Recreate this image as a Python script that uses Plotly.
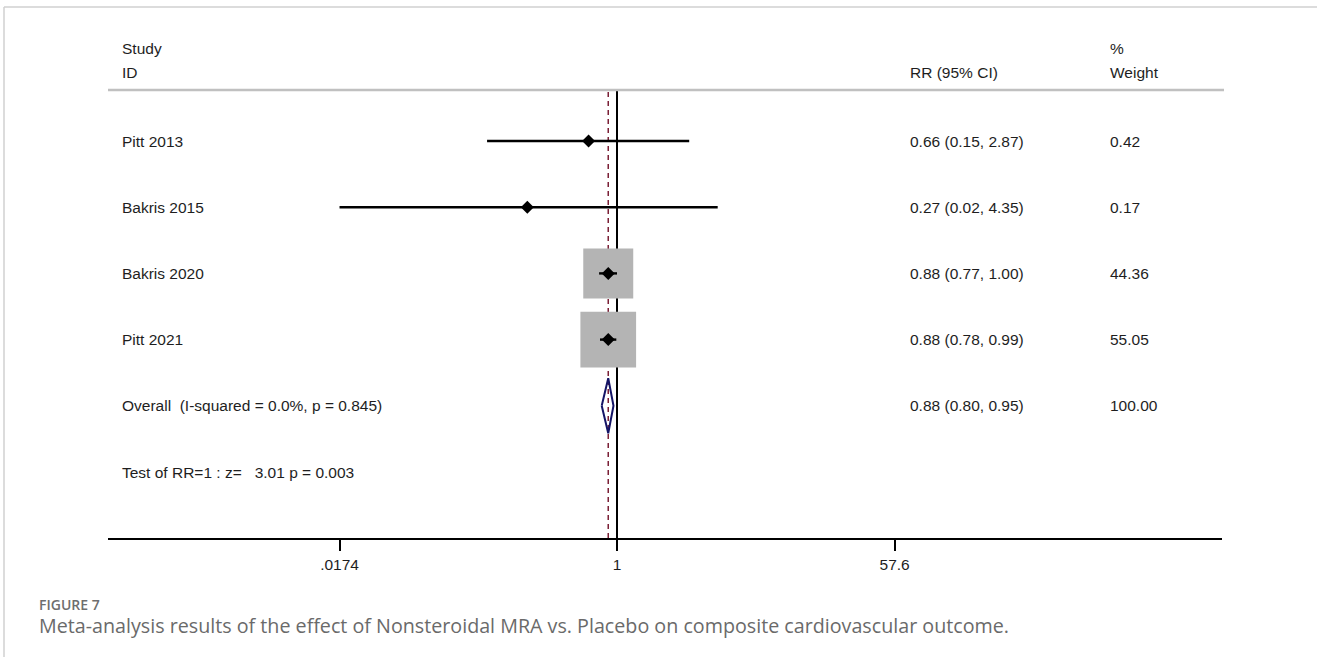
import math
import plotly.graph_objects as go

# ---------------- data ----------------
studies = ["Pitt 2013", "Bakris 2015", "Bakris 2020", "Pitt 2021"]
rr = [0.66, 0.27, 0.88, 0.88]
ci_low = [0.15, 0.0174, 0.77, 0.78]
ci_high = [2.87, 4.35, 1.00, 0.99]
weights = [0.42, 0.17, 44.36, 55.05]

overall_label = "Overall  (I-squared = 0.0%, p = 0.845)"
overall_rr = 0.88
overall_low = 0.80
overall_high = 0.95
overall_weight = 100.00
test_label = "Test of RR=1 : z=   3.01 p = 0.003"

tick_vals = [0.0174, 1, 57.6]
tick_text = [".0174", "1", "57.6"]

# ---------------- geometry ----------------
W, H = 1317, 657
L, R, T, B = 108, 1222, 90, 538          # plot area in pixels
X_ONE = 617                               # pixel of RR = 1
PPD = 157.7                               # pixels per decade
ROW0, ROWSTEP = 141, 66.2                 # first row pixel, row spacing

x_range = [-(X_ONE - L) / PPD, (R - X_ONE) / PPD]
y_range = [6 + (B - 472) / ROWSTEP, 1 - (ROW0 - T) / ROWSTEP]


def pxx(p):
    return (p - L) / (R - L)


def pxy(p):
    return (B - p) / (B - T)


txt_font = dict(family="Liberation Sans, Arial, sans-serif", size=15.5, color="#1e1e1e")
fig = go.Figure()

rows = list(range(1, len(studies) + 1))
overall_row = len(studies) + 1
test_row = len(studies) + 2

# weight boxes (area proportional to weight)
K = 7.507  # px per sqrt(weight)
for r, x, w in zip(rows, rr, weights):
    side = K * math.sqrt(w)
    hx = side / 2 / PPD
    hy = side / 2 / ROWSTEP
    lx = math.log10(x)
    xs = [10 ** (lx - hx), 10 ** (lx + hx), 10 ** (lx + hx), 10 ** (lx - hx), 10 ** (lx - hx)]
    ys = [r - hy, r - hy, r + hy, r + hy, r - hy]
    fig.add_trace(go.Scatter(x=xs, y=ys, mode="lines", fill="toself",
                             fillcolor="#b4b4b4", line=dict(width=0, color="#b4b4b4"),
                             hoverinfo="skip", showlegend=False))

# CI lines
for r, lo, hi in zip(rows, ci_low, ci_high):
    fig.add_trace(go.Scatter(x=[lo, hi], y=[r, r], mode="lines",
                             line=dict(color="black", width=2.4),
                             hoverinfo="skip", showlegend=False))

# point estimates
fig.add_trace(go.Scatter(x=rr, y=rows, mode="markers",
                         marker=dict(symbol="diamond", size=10, color="black"),
                         hoverinfo="skip", showlegend=False))

# overall diamond
dh = 27.5 / ROWSTEP
fig.add_trace(go.Scatter(
    x=[overall_low, overall_rr, overall_high, overall_rr, overall_low],
    y=[overall_row, overall_row - dh, overall_row, overall_row + dh, overall_row],
    mode="lines", line=dict(color="#141466", width=2),
    fill="toself", fillcolor="rgba(255,255,255,0)",
    hoverinfo="skip", showlegend=False))

shapes = [
    # null line
    dict(type="line", xref="x", yref="paper", x0=1, x1=1, y0=0, y1=1,
         line=dict(color="black", width=2), layer="below"),
    # overall dashed line
    dict(type="line", xref="x", yref="paper", x0=overall_rr, x1=overall_rr, y0=0, y1=1,
         line=dict(color="#7a1f35", width=1.5, dash="5px,4px"), layer="below"),
    # header rule
    dict(type="line", xref="paper", yref="paper", x0=0, x1=pxx(1224), y0=1, y1=1,
         line=dict(color="#c0c0c0", width=2.5)),
    # page frame
    dict(type="line", xref="paper", yref="paper", x0=pxx(4), x1=pxx(4), y0=pxy(7), y1=pxy(H + 2),
         line=dict(color="#d0d0d0", width=1.5)),
    dict(type="line", xref="paper", yref="paper", x0=pxx(4), x1=pxx(W + 2), y0=pxy(7), y1=pxy(7),
         line=dict(color="#d0d0d0", width=1.5)),
]

ann = []


def add_text(text, xp, yp, anchor="left", font=None):
    ann.append(dict(text=text, xref="paper", yref="paper", x=pxx(xp), y=pxy(yp),
                    xanchor=anchor, yanchor="middle", showarrow=False,
                    font=font or txt_font))


# headers
add_text("Study", 120, 48)
add_text("ID", 120, 73)
add_text("RR (95% CI)", 908, 73)
add_text("%", 1108, 48)
add_text("Weight", 1108, 73)

for r, s, x, lo, hi, w in zip(rows, studies, rr, ci_low, ci_high, weights):
    yp = ROW0 + (r - 1) * ROWSTEP
    add_text(s, 120, yp)
    add_text(f"{x:.2f} ({lo:.2f}, {hi:.2f})", 908, yp)
    add_text(f"{w:.2f}", 1108, yp)

yp = ROW0 + (overall_row - 1) * ROWSTEP
add_text(overall_label, 120, yp)
add_text(f"{overall_rr:.2f} ({overall_low:.2f}, {overall_high:.2f})", 908, yp)
add_text(f"{overall_weight:.2f}", 1108, yp)
add_text(test_label, 120, ROW0 + (test_row - 1) * ROWSTEP)

# caption
add_text("FIGURE 7", 37, 604,
         font=dict(family="Open Sans, sans-serif", size=14, color="#6e6e6e", weight=600))
add_text("Meta-analysis results of the effect of Nonsteroidal MRA vs. Placebo on composite cardiovascular outcome.",
         37, 625, font=dict(family="Open Sans, sans-serif", size=19.7, color="#6a6a6a"))

fig.update_layout(
    width=W, height=H,
    margin=dict(l=L, r=W - R, t=T, b=H - B),
    paper_bgcolor="white", plot_bgcolor="white",
    shapes=shapes, annotations=ann, showlegend=False,
    xaxis=dict(type="log", range=x_range, tickvals=tick_vals, ticktext=tick_text,
               showline=True, linecolor="black", linewidth=1.8, mirror=False,
               ticks="outside", ticklen=11, tickwidth=1.5, tickcolor="black",
               showgrid=False, zeroline=False, tickfont=txt_font, fixedrange=True),
    yaxis=dict(range=y_range, showticklabels=False, showgrid=False, zeroline=False,
               showline=False, ticks="", fixedrange=True),
)

fig.write_html("out.html", config={"displayModeBar": False})
